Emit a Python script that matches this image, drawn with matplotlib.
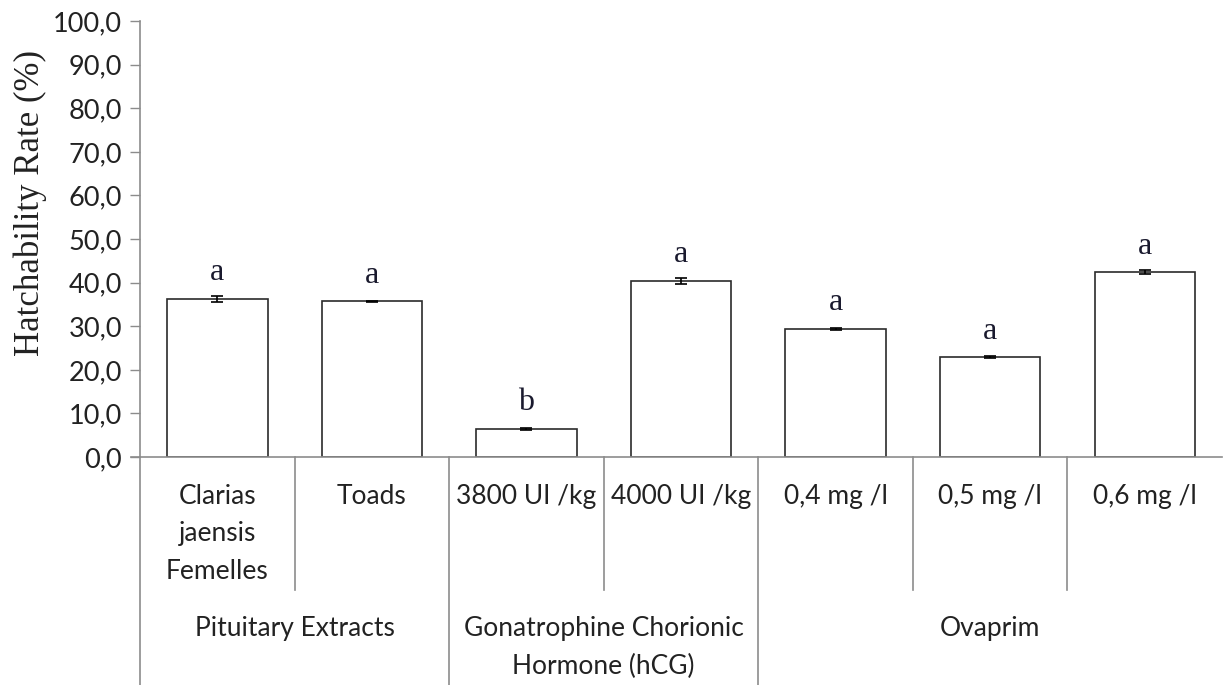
import matplotlib.pyplot as plt

# data
categorias = ["Clarias\njaensis\nFemelles", "Toads", "3800 UI /kg", "4000 UI /kg",
              "0,4 mg /l", "0,5 mg /l", "0,6 mg /l"]
grupos = ["Pituitary Extracts", "Gonatrophine Chorionic\nHormone (hCG)", "Ovaprim"]
tamanho_grupos = [2, 2, 3]
taxa_eclosao = [36.3, 35.7, 6.5, 40.4, 29.4, 22.9, 42.4]
erro = [0.7, 0.2, 0.25, 0.65, 0.2, 0.3, 0.5]
letras = ["a", "a", "b", "a", "a", "a", "a"]
yticks = [0, 10, 20, 30, 40, 50, 60, 70, 80, 90, 100]

cinza = "#8c8c8c"
fig = plt.figure(figsize=(12.25, 6.85), dpi=100)
ax = fig.add_axes([0.1143, 0.3328, 0.8833, 0.6365])

x = list(range(len(categorias)))
ax.bar(x, taxa_eclosao, width=0.65, color="white", edgecolor="#2b2b2b", linewidth=1.2)
ax.errorbar(x, taxa_eclosao, yerr=erro, fmt="none", ecolor="black",
            elinewidth=1.2, capsize=4.5, capthick=1.2)

for xi, v, l in zip(x, taxa_eclosao, letras):
    ax.text(xi, v + 6.0, l, ha="center", va="center", fontsize=23,
            family="Liberation Serif", color="#1a1a2e")

ax.set_xlim(-0.5, len(categorias) - 0.5)
ax.set_ylim(0, 100)
ax.set_yticks(yticks)
ax.set_yticklabels([f"{t:.1f}".replace(".", ",") for t in yticks],
                   fontsize=19.5, family="Lato", color="#222222")
ax.tick_params(axis="y", length=7, width=1, color=cinza, pad=6)
ax.set_xticks([])
for s in ["top", "right"]:
    ax.spines[s].set_visible(False)
ax.spines["left"].set_color(cinza)
ax.spines["bottom"].set_color(cinza)
ax.spines["left"].set_linewidth(1.2)
ax.spines["bottom"].set_linewidth(1.2)

tr = ax.get_xaxis_transform()
# x axis extends a little to the left like the y ticks
ax.plot([-0.56, -0.5], [0, 0], transform=tr, color=cinza, lw=1.2, clip_on=False)

# category labels
for xi, c in zip(x, categorias):
    ax.text(xi, -0.062, c, transform=tr, ha="center", va="top", fontsize=19,
            family="Lato", color="#222222", linespacing=1.62)

# group labels and separators
inicio = 0
fronteiras = [-0.5]
for g, n in zip(grupos, tamanho_grupos):
    centro = inicio + (n - 1) / 2
    ax.text(centro, -0.365, g, transform=tr, ha="center", va="top", fontsize=19,
            family="Lato", color="#222222", linespacing=1.62)
    inicio += n
    fronteiras.append(inicio - 0.5)

for b in range(len(categorias)):
    xb = b - 0.5
    if xb in fronteiras:
        ax.plot([xb, xb], [0, -0.53], transform=tr, color=cinza, lw=1.2, clip_on=False)
    else:
        ax.plot([xb, xb], [0, -0.305], transform=tr, color=cinza, lw=1.2, clip_on=False)

fig.text(0.025, 1 - 203 / 685, "Hatchability Rate (%)", rotation=90, ha="center",
         va="center", fontsize=25, family="Liberation Serif", color="#222222")

fig.savefig("out.png", dpi=100)
